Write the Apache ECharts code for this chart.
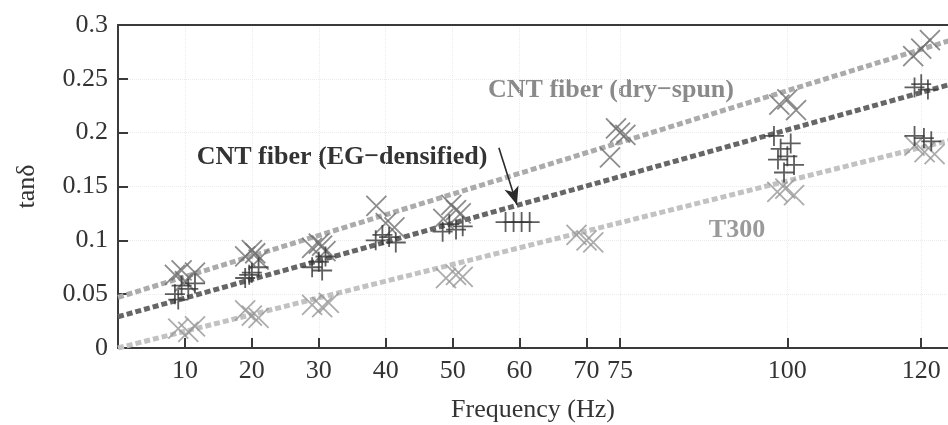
<!DOCTYPE html>
<html>
<head>
<meta charset="utf-8">
<script src="https://cdn.jsdelivr.net/npm/echarts@6/dist/echarts.min.js"></script>
<style>
html,body{margin:0;padding:0;background:#fff;}
#c{width:948px;height:425px;}
</style>
</head>
<body>
<div id="c"></div>
<script>
// ---- data ----
const xTickValues = [10, 20, 30, 40, 50, 60, 70, 75, 100, 120];
const yTickValues = [0, 0.05, 0.1, 0.15, 0.2, 0.25, 0.3];

// CNT fiber (dry-spun): X markers
const drySpun = [
  [8.5,0.068],[10,0.062],[11.5,0.07],[9.5,0.072],
  [19,0.085],[20,0.091],[21,0.082],[20.5,0.088],
  [29,0.093],[30,0.097],[31,0.09],[30.5,0.095],
  [38.6,0.132],[40,0.116],[41.3,0.112],
  [48.6,0.12],[49.8,0.133],[51.2,0.125],[50.5,0.128],
  [73.5,0.177],[74.4,0.204],[75.8,0.198],[75,0.2],
  [98.8,0.226],[100,0.231],[101.3,0.221],
  [118.8,0.271],[120,0.278],[121.3,0.286]
];
// CNT fiber (EG-densified): + markers
const egDensified = [
  [8.5,0.05],[9.5,0.058],[10.5,0.055],[11.5,0.06],[9,0.045],
  [19,0.065],[20,0.07],[21,0.075],[19.6,0.068],
  [29,0.075],[30,0.08],[31,0.085],[30.5,0.072],
  [38.5,0.1],[39.5,0.105],[40.5,0.103],[41.5,0.098],
  [48.5,0.108],[49.5,0.115],[50.5,0.11],[51.5,0.113],
  [57.9,0.117],[59.1,0.117],[60.3,0.117],[61.5,0.117],
  [98,0.197],[99,0.185],[100,0.178],[101,0.17],[99.5,0.163],[100.5,0.19],[98.6,0.175],
  [119,0.242],[120,0.245],[121,0.24],
  [119,0.197],[120.4,0.195],[121.5,0.192]
];
// T300: X markers
const t300 = [
  [9,0.018],[10.5,0.015],[11.5,0.02],
  [19,0.035],[20,0.03],[21,0.028],
  [29,0.04],[30.5,0.038],[31.5,0.042],
  [49,0.065],[50.5,0.068],[51.5,0.066],
  [68.5,0.105],[70,0.1],[71,0.098],
  [98.5,0.145],[99.7,0.148],[101,0.142],
  [119,0.188],[120.5,0.182],[122,0.18]
];
// dashed trend lines (end points)
const drySpunTrend = [[0,0.047],[125,0.287]];
const egTrend = [[0,0.029],[125,0.246]];
const t300Trend = [[0,0.0],[125,0.194]];
// arrow annotation (tail, tip)
const egArrow = [[56.9,0.186],[59.6,0.133]];

const FONT = '"Liberation Serif", "Times New Roman", serif';
const X_PATH = 'path://M0,0L10,10M10,0L0,10';
const PLUS_PATH = 'path://M5,0L5,10M0,5L10,5';

const chart = echarts.init(document.getElementById('c'), null, {renderer:'canvas'});

const faint = {show:true, lineStyle:{color:'#ebebeb', type:'dotted', width:1}};

const option = {
  backgroundColor:'#fff',
  animation:false,
  grid:{left:118, right:0, top:25, bottom:77, containLabel:false, outerBoundsMode:'none'},
  xAxis:[{
    type:'value', min:0, max:124,
    name:'Frequency (Hz)', nameLocation:'middle', nameGap:49,
    nameTextStyle:{fontFamily:FONT, fontSize:26, color:'#333'},
    axisLine:{show:true, lineStyle:{color:'#3a3a3a', width:2}},
    axisTick:{show:true, inside:true, length:10, customValues:xTickValues, lineStyle:{color:'#3a3a3a', width:2}},
    axisLabel:{show:true, customValues:xTickValues, margin:10, fontFamily:FONT, fontSize:26, color:'#333'},
    splitLine:faint
  },{
    type:'value', min:0, max:124, position:'top',
    axisLine:{show:true, onZero:false, lineStyle:{color:'#3a3a3a', width:2}},
    axisTick:{show:false}, axisLabel:{show:false}, splitLine:{show:false}
  }],
  yAxis:{
    type:'value', min:0, max:0.3, interval:0.05,
    name:'tanδ', nameLocation:'middle', nameGap:78, nameRotate:90,
    nameTextStyle:{fontFamily:FONT, fontSize:26, color:'#333'},
    axisLine:{show:true, lineStyle:{color:'#3a3a3a', width:2}},
    axisTick:{show:true, inside:true, length:10, lineStyle:{color:'#3a3a3a', width:2}},
    axisLabel:{margin:10, fontFamily:FONT, fontSize:26, color:'#333'},
    splitLine:faint
  },
  series:[
    {type:'line', data:t300Trend, showSymbol:false, symbol:'none', z:2,
     lineStyle:{color:'#c2c2c2', width:5, type:[6,3]}},
    {type:'line', data:drySpunTrend, showSymbol:false, symbol:'none', z:2,
     lineStyle:{color:'#ababab', width:5, type:[6,3]}},
    {type:'line', data:egTrend, showSymbol:false, symbol:'none', z:2,
     lineStyle:{color:'#666666', width:5, type:[6,3]},
     markLine:{silent:true, symbol:['none','arrow'], symbolSize:[11,18], label:{show:false},
       lineStyle:{color:'#2a2a2a', width:1.6, type:'solid'},
       data:[[{coord:egArrow[0]},{coord:egArrow[1]}]]}},
    {type:'scatter', data:t300, symbol:X_PATH, symbolSize:20, z:3,
     itemStyle:{color:'rgba(0,0,0,0)', borderColor:'#979797', borderWidth:1.8}},
    {type:'scatter', data:drySpun, symbol:X_PATH, symbolSize:20, z:4,
     itemStyle:{color:'rgba(0,0,0,0)', borderColor:'#717171', borderWidth:1.8}},
    {type:'scatter', data:egDensified, symbol:PLUS_PATH, symbolSize:20, z:5,
     itemStyle:{color:'rgba(0,0,0,0)', borderColor:'#363636', borderWidth:1.8}}
  ],
  graphic:[
    {type:'text', x:611, y:90, style:{text:'CNT fiber (dry−spun)', font:'bold 26px '+FONT, fill:'#8a8a8a', align:'center', verticalAlign:'middle'}},
    {type:'text', x:342, y:157, style:{text:'CNT fiber (EG−densified)', font:'bold 26px '+FONT, fill:'#333', align:'center', verticalAlign:'middle'}},
    {type:'text', x:737, y:230, style:{text:'T300', font:'bold 26px '+FONT, fill:'#9a9a9a', align:'center', verticalAlign:'middle'}}
  ]
};
chart.setOption(option);
</script>
</body>
</html>
